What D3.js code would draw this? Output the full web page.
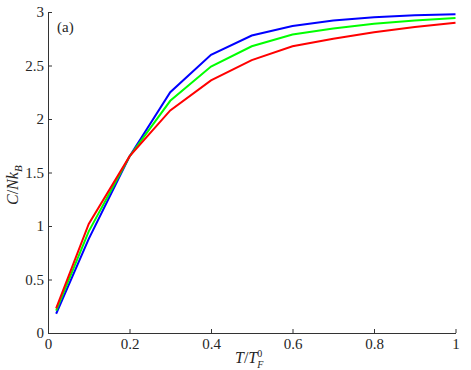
<!DOCTYPE html>
<html>
<head>
<meta charset="utf-8">
<script src="https://cdn.jsdelivr.net/npm/d3@7"></script>
<style>
  body { margin: 0; background: #fff; }
  text { font-family: "Liberation Serif", "Times New Roman", serif; fill: #262626; }
</style>
</head>
<body>
<div id="root"></div>
<script>
const width = 471;
const height = 370;
const margin = { top: 12, right: 15.5, bottom: 37, left: 48 };

// temperature points T/T_F^0
const temps = [0.02, 0.1, 0.2, 0.3, 0.4, 0.5, 0.6, 0.7, 0.8, 0.9, 1.0];
// heat capacity C/Nk_B for the three curves
const blueVals = [0.18, 0.88, 1.65, 2.25, 2.60, 2.78, 2.87, 2.92, 2.95, 2.97, 2.98];
const greenVals = [0.21, 0.95, 1.65, 2.17, 2.49, 2.68, 2.79, 2.845, 2.89, 2.92, 2.945];
const redVals = [0.23, 1.02, 1.65, 2.08, 2.36, 2.55, 2.68, 2.75, 2.81, 2.86, 2.90];

const xTicks = [0, 0.2, 0.4, 0.6, 0.8, 1];
const yTicks = [0, 0.5, 1, 1.5, 2, 2.5, 3];

const series = [
	{ name: "blue", color: "#0000ff", values: blueVals },
	{ name: "green", color: "#00ff00", values: greenVals },
	{ name: "red", color: "#ff0000", values: redVals }
];

const svg = d3.select("#root")
	.append("svg")
		.attr("width", width)
		.attr("height", height);

const x = d3.scaleLinear().domain([0, 1]).range([margin.left, width - margin.right]);
const y = d3.scaleLinear().domain([0, 3]).range([height - margin.bottom, margin.top]);

// axes, ticks point inward
const xAxis = svg.append("g")
	.attr("transform", `translate(0, ${y(0)})`)
	.call(d3.axisBottom(x).tickValues(xTicks).tickFormat(d3.format("")).tickSizeInner(-4).tickSizeOuter(0).tickPadding(5));

const yAxis = svg.append("g")
	.attr("transform", `translate(${x(0)}, 0)`)
	.call(d3.axisLeft(y).tickValues(yTicks).tickFormat(d3.format("")).tickSizeInner(-4).tickSizeOuter(0).tickPadding(4));

[xAxis, yAxis].forEach(a => {
	a.attr("font-family", null);
	a.select(".domain").attr("stroke", "#333").attr("stroke-width", 1);
	a.selectAll(".tick line").attr("stroke", "#333");
	a.selectAll(".tick text").attr("font-size", 15).attr("fill", "#262626");
});

// curves
const line = d3.line()
	.x((d, i) => x(temps[i]))
	.y(d => y(d));

svg.selectAll(".curve")
	.data(series).enter()
	.append("path")
		.attr("class", "curve")
		.attr("d", d => line(d.values))
		.attr("fill", "none")
		.attr("stroke", d => d.color)
		.attr("stroke-width", 2);

// panel label
svg.append("text")
	.attr("x", 57)
	.attr("y", 32)
	.attr("font-size", 15)
	.text("(a)");

// x label: T/T_F^0
const xl = svg.append("text")
	.attr("x", 235)
	.attr("y", 363)
	.attr("font-size", 16);
xl.append("tspan").attr("font-style", "italic").text("T");
xl.append("tspan").text("/");
xl.append("tspan").attr("font-style", "italic").text("T");
xl.append("tspan").attr("font-size", 10).attr("dy", -6).text("0");
xl.append("tspan").attr("font-size", 10).attr("font-style", "italic").attr("dx", -5).attr("dy", 11).text("F");

// y label: C/Nk_B
const yl = svg.append("text")
	.attr("transform", "translate(18, 205) rotate(-90)")
	.attr("font-size", 16);
yl.append("tspan").attr("font-style", "italic").text("C");
yl.append("tspan").text("/");
yl.append("tspan").attr("font-style", "italic").text("Nk");
yl.append("tspan").attr("font-size", 11).attr("font-style", "italic").attr("dy", 4).text("B");
</script>
</body>
</html>
